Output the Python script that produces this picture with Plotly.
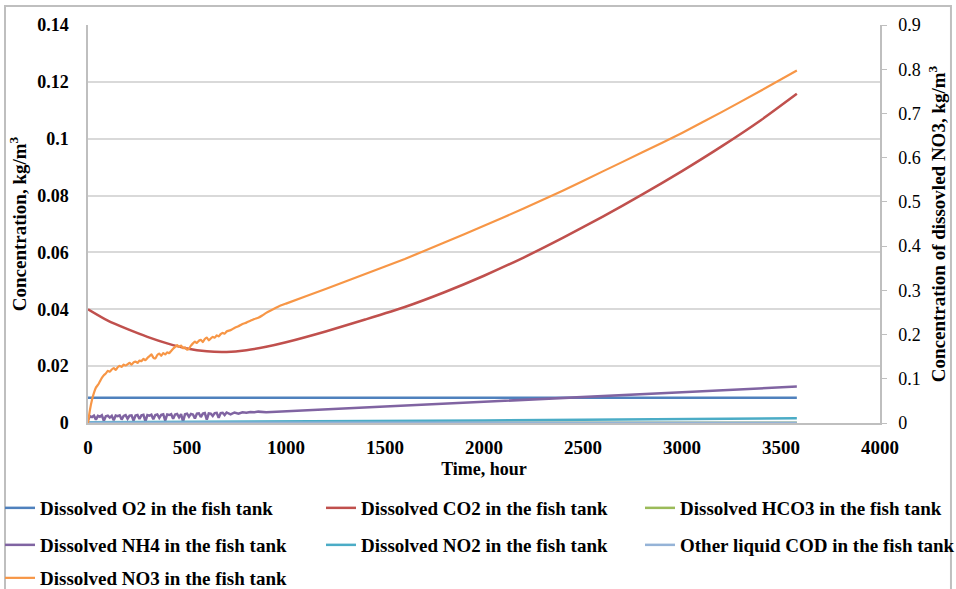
import plotly.graph_objects as go

# ---- time axis and series (hours, kg/m3) ----
t_o2 = [0, 3580]
o2 = [0.0089, 0.0089]

t_co2 = [0, 100, 200, 300, 400, 500, 600, 700, 800, 900, 1000, 1200, 1400,
         1600, 1800, 2000, 2200, 2400, 2600, 2800, 3000, 3200, 3400, 3580]
co2 = [0.0400, 0.0360, 0.0330, 0.0303, 0.0280, 0.0262, 0.0252, 0.0250,
       0.0256, 0.0268, 0.0284, 0.0322, 0.0364, 0.0408, 0.0460, 0.0518,
       0.0582, 0.0652, 0.0726, 0.0804, 0.0886, 0.0973, 0.1066, 0.1158]

t_hco3 = [0, 3580]
hco3 = [0.0001, 0.0001]

t_nh4 = [0, 10, 20, 30, 40, 50, 60, 70, 80, 90, 100, 110, 120, 130, 140, 150,
         160, 170, 180, 190, 200, 210, 220, 230, 240, 250, 260, 270, 280, 290,
         300, 310, 320, 330, 340, 350, 360, 370, 380, 390, 400, 410, 420, 430,
         440, 450, 460, 470, 480, 490, 500, 510, 520, 530, 540, 550, 560, 570,
         580, 590, 600, 610, 620, 630, 640, 650, 660, 670, 680, 690, 700, 720,
         740, 760, 780, 800, 820, 840, 860, 900, 1500, 2000, 2500, 3000, 3580]
nh4 = [0.0010, 0.0024, 0.0021, 0.0026, 0.0012, 0.0025, 0.0022, 0.0027, 0.0008,
       0.0024, 0.0026, 0.0019, 0.0025, 0.0010, 0.0026, 0.0024, 0.0027, 0.0012,
       0.0025, 0.0028, 0.0015, 0.0026, 0.0027, 0.0009, 0.0026, 0.0028, 0.0014,
       0.0027, 0.0029, 0.0006, 0.0028, 0.0026, 0.0029, 0.0013, 0.0028, 0.0030,
       0.0018, 0.0029, 0.0031, 0.0008, 0.0030, 0.0028, 0.0031, 0.0015, 0.0030,
       0.0032, 0.0020, 0.0031, 0.0005, 0.0031, 0.0033, 0.0022, 0.0032, 0.0030,
       0.0016, 0.0033, 0.0034, 0.0021, 0.0033, 0.0035, 0.0012, 0.0034, 0.0033,
       0.0025, 0.0035, 0.0036, 0.0018, 0.0035, 0.0036, 0.0028, 0.0037, 0.0030,
       0.0037, 0.0033, 0.0038, 0.0036, 0.0039, 0.0038, 0.0040, 0.0038, 0.0058,
       0.0074, 0.0091, 0.0108, 0.0128]

t_no2 = [0, 500, 1000, 1500, 2000, 2500, 3000, 3400, 3580]
no2 = [0.0003, 0.0004, 0.0005, 0.0007, 0.0009, 0.0011, 0.0013, 0.0015, 0.0017]

t_cod = [0, 3580]
cod = [0.0001, 0.0001]

t_no3 = [0, 10, 20, 30, 40, 50, 60, 70, 80, 90, 100, 110, 120, 130, 140, 150,
         160, 170, 180, 190, 200, 210, 220, 230, 240, 250, 260, 270, 280, 290,
         300, 310, 320, 330, 340, 350, 360, 370, 380, 390, 400, 410, 420, 430,
         440, 450, 460, 470, 480, 490, 500, 510, 520, 530, 540, 550, 560, 570,
         580, 590, 600, 610, 620, 630, 640, 650, 660, 670, 680, 690, 700, 720,
         740, 760, 780, 800, 820, 840, 860, 880, 900, 930, 960, 1000, 1200,
         1400, 1600, 1800, 2000, 2200, 2400, 2600, 2800, 3000, 3200, 3400, 3580]
no3 = [0.000, 0.030, 0.052, 0.068, 0.080, 0.086, 0.094, 0.102, 0.108, 0.112,
       0.118, 0.116, 0.121, 0.124, 0.120, 0.126, 0.129, 0.127, 0.132, 0.130,
       0.133, 0.136, 0.132, 0.137, 0.139, 0.136, 0.141, 0.140, 0.145, 0.142,
       0.147, 0.151, 0.155, 0.148, 0.146, 0.154, 0.157, 0.152, 0.158, 0.155,
       0.160, 0.158, 0.163, 0.168, 0.172, 0.176, 0.172, 0.175, 0.169, 0.171,
       0.166, 0.168, 0.175, 0.180, 0.184, 0.181, 0.186, 0.188, 0.183, 0.190,
       0.193, 0.187, 0.191, 0.195, 0.193, 0.198, 0.196, 0.201, 0.204, 0.202,
       0.207, 0.210, 0.215, 0.219, 0.224, 0.227, 0.231, 0.235, 0.238, 0.243,
       0.249, 0.256, 0.263, 0.270, 0.303, 0.337, 0.371, 0.408, 0.446, 0.485,
       0.526, 0.569, 0.612, 0.656, 0.703, 0.752, 0.797]

FONT = "Liberation Serif"
GRID = "#D9D9D9"
AXIS = "#BFBFBF"

# legend slot of every entry: (column x in px, row centre y in px)
slots = [(0, 508), (321, 508), (640, 508),
         (0, 545), (321, 545), (640, 545),
         (0, 578)]

series = [
    ("Dissolved O2 in the fish tank", t_o2, o2, "#4F81BD", "y"),
    ("Dissolved CO2 in the fish tank", t_co2, co2, "#C0504D", "y"),
    ("Dissolved HCO3 in the fish tank", t_hco3, hco3, "#9BBB59", "y"),
    ("Dissolved NH4 in the fish tank", t_nh4, nh4, "#8064A2", "y"),
    ("Dissolved NO2 in the fish tank", t_no2, no2, "#4BACC6", "y"),
    ("Other liquid COD in the fish tank", t_cod, cod, "#95B3D7", "y"),
    ("Dissolved NO3 in the fish tank", t_no3, no3, "#F79646", "y2"),
]

fig = go.Figure()
legends = {}
for i, (name, tx, vy, color, yax) in enumerate(series):
    leg_id = "legend" if i == 0 else f"legend{i + 1}"
    smooth = name.startswith("Dissolved CO2") or name.startswith("Dissolved NO3")
    fig.add_trace(go.Scatter(
        x=tx, y=vy, name=name, mode="lines", yaxis=yax, legend=leg_id,
        showlegend=True,
        line=dict(color=color, width=2.5 if yax == "y" else 2.2,
                  shape="spline" if smooth else "linear", smoothing=0.6),
    ))
    sx, sy = slots[i]
    legends[leg_id] = dict(
        orientation="h", xref="container", yref="container",
        x=sx / 956, y=1 - sy / 589, xanchor="left", yanchor="middle",
        font=dict(family=FONT, size=19, color="black", weight="bold"),
        bgcolor="rgba(0,0,0,0)", itemwidth=30, visible=True,
    )

fig.update_layout(
    width=956, height=589,
    showlegend=True,
    margin=dict(l=88, r=76, t=25, b=166, autoexpand=False),
    paper_bgcolor="white", plot_bgcolor="white",
    xaxis=dict(
        range=[0, 4000], dtick=500, showgrid=False, zeroline=False,
        showline=True, linecolor=AXIS, linewidth=1.5, ticks="",
        ticklabelstandoff=6, automargin=False,
        tickfont=dict(family=FONT, size=19, color="black", weight="bold"),
        title=dict(text="Time, hour", standoff=6,
                   font=dict(family=FONT, size=18, color="black", weight="bold")),
    ),
    yaxis=dict(
        range=[0, 0.14], dtick=0.02, showgrid=True, gridcolor=GRID, gridwidth=1.5,
        zeroline=False, showline=True, linecolor=AXIS, linewidth=1.5, ticks="",
        ticklabelstandoff=14, automargin=False,
        tickfont=dict(family=FONT, size=18, color="black", weight="bold"),
        title=dict(text="Concentration, kg/m<sup>3</sup>", standoff=6,
                   font=dict(family=FONT, size=19, color="black", weight="bold")),
    ),
    yaxis2=dict(
        range=[0, 0.9], dtick=0.1, overlaying="y", side="right",
        showgrid=False, zeroline=False, showline=True, linecolor=AXIS,
        linewidth=1.5, ticks="outside", ticklen=5, tickcolor=AXIS,
        ticklabelstandoff=8, automargin=False,
        tickfont=dict(family=FONT, size=18, color="black"),
        title=dict(text="Concentration of dissovled NO3, kg/m<sup>3</sup>", standoff=12,
                   font=dict(family=FONT, size=19, color="black", weight="bold")),
    ),
    shapes=[dict(type="rect", xref="paper", yref="paper",
                 x0=-0.1048, x1=1.0896, y0=-0.46, y1=1.0477,
                 line=dict(color=AXIS, width=2), layer="below")],
    **legends,
)

fig.write_html("out.html")
